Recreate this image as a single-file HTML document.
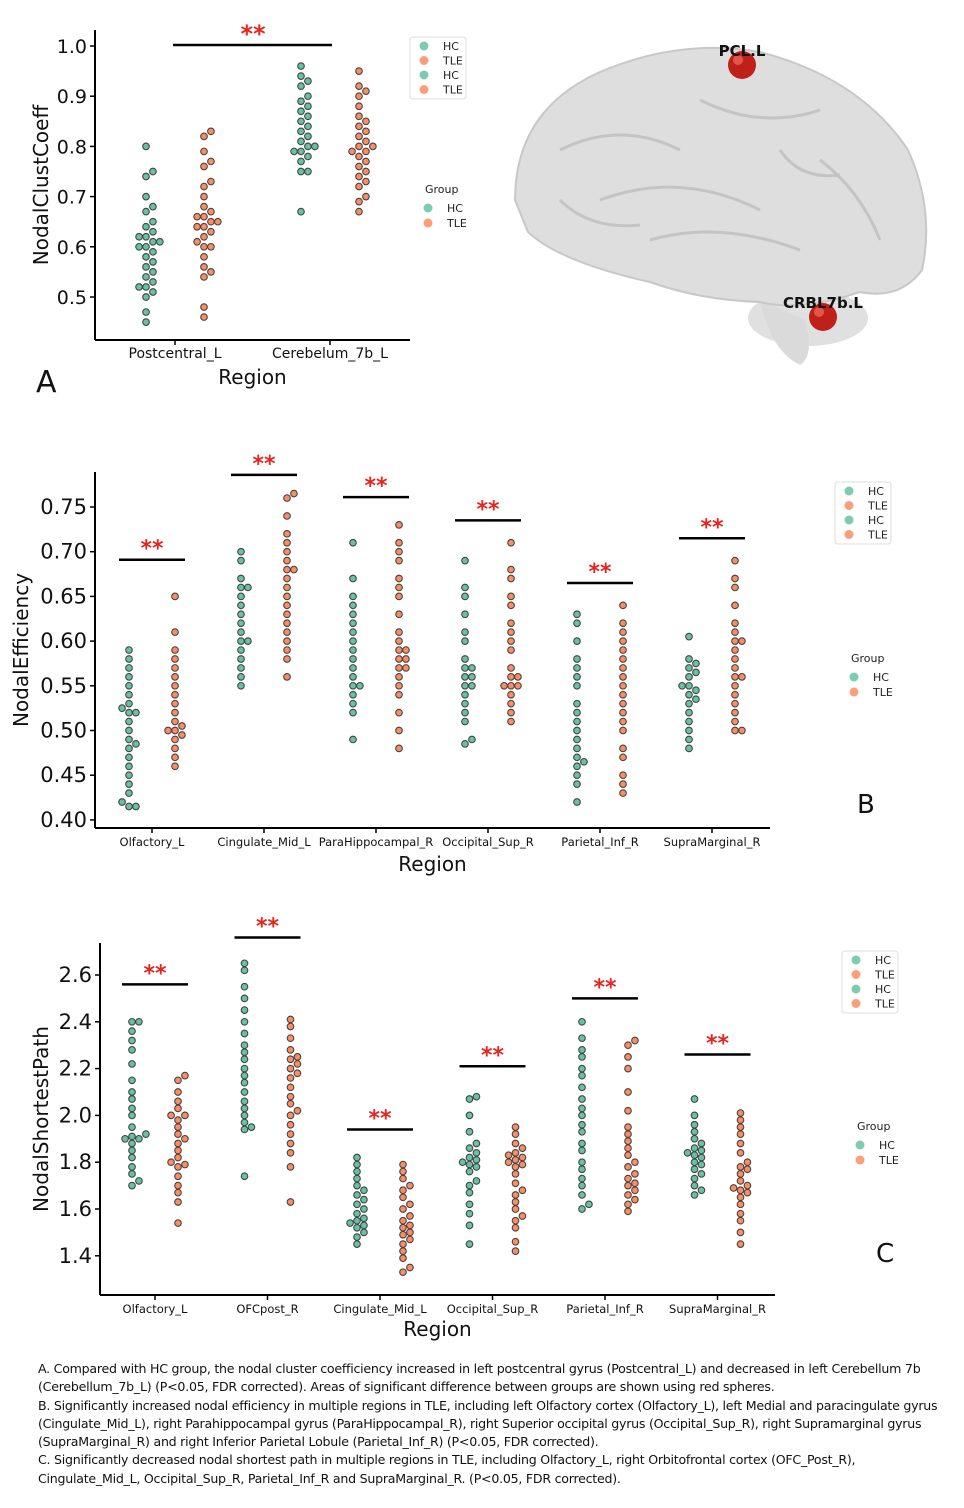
<!DOCTYPE html>
<html><head><meta charset="utf-8"><style>
body{margin:0;background:#fff;width:964px;height:1508px;overflow:hidden;position:relative;font-family:"DejaVu Sans","Liberation Sans",sans-serif}
#cap{position:absolute;left:38px;top:1360px;width:915px;font-family:"DejaVu Sans","Liberation Sans",sans-serif;font-size:12.6px;line-height:18.3px;color:#111;letter-spacing:-0.25px}
#cap p{margin:0}
</style></head><body>
<svg id="fig" width="964" height="1508" style="position:absolute;left:0;top:0"></svg>
<div id="cap">
<p>A. Compared with HC group, the nodal cluster coefficiency increased in left postcentral gyrus (Postcentral_L) and decreased in left Cerebellum 7b (Cerebellum_7b_L) (P&lt;0.05, FDR corrected). Areas of significant difference between groups are shown using red spheres.</p>
<p>B. Significantly increased nodal efficiency in multiple regions in TLE, including left Olfactory cortex (Olfactory_L), left Medial and paracingulate gyrus (Cingulate_Mid_L), right Parahippocampal gyrus (ParaHippocampal_R), right Superior occipital gyrus (Occipital_Sup_R), right Supramarginal gyrus (SupraMarginal_R) and right Inferior Parietal Lobule (Parietal_Inf_R) (P&lt;0.05, FDR corrected).</p>
<p>C. Significantly decreased nodal shortest path in multiple regions in TLE, including Olfactory_L, right Orbitofrontal cortex (OFC_Post_R), Cingulate_Mid_L, Occipital_Sup_R, Parietal_Inf_R and SupraMarginal_R. (P&lt;0.05, FDR corrected).</p>
</div>
<script>
// Panel A data
const catsA=["Postcentral_L","Cerebelum_7b_L"];
const aHC0=[0.80,0.75,0.74,0.70,0.68,0.67,0.65,0.64,0.63,0.62,0.62,0.61,0.61,0.60,0.60,0.59,0.58,0.57,0.56,0.55,0.54,0.53,0.52,0.52,0.51,0.50,0.47,0.45];
const aTLE0=[0.83,0.82,0.79,0.77,0.76,0.73,0.72,0.70,0.68,0.67,0.66,0.66,0.65,0.65,0.64,0.64,0.63,0.62,0.61,0.60,0.60,0.58,0.56,0.55,0.54,0.48,0.46];
const aHC1=[0.96,0.94,0.93,0.92,0.90,0.89,0.88,0.87,0.86,0.85,0.84,0.83,0.82,0.81,0.80,0.80,0.79,0.79,0.78,0.77,0.75,0.75,0.67];
const aTLE1=[0.95,0.92,0.91,0.90,0.88,0.86,0.85,0.84,0.83,0.82,0.81,0.80,0.80,0.79,0.79,0.78,0.77,0.76,0.75,0.74,0.73,0.72,0.70,0.69,0.67];
const ticksA=[0.5,0.6,0.7,0.8,0.9,1.0];
// Panel B data
const catsB=["Olfactory_L","Cingulate_Mid_L","ParaHippocampal_R","Occipital_Sup_R","Parietal_Inf_R","SupraMarginal_R"];
const bHC0=[0.59,0.58,0.57,0.56,0.55,0.54,0.53,0.525,0.52,0.52,0.51,0.50,0.49,0.485,0.48,0.47,0.46,0.45,0.44,0.43,0.42,0.415,0.415];
const bTLE0=[0.65,0.61,0.59,0.58,0.57,0.56,0.55,0.54,0.53,0.52,0.51,0.505,0.50,0.50,0.495,0.49,0.48,0.47,0.46];
const bHC1=[0.70,0.69,0.67,0.66,0.66,0.65,0.64,0.63,0.62,0.61,0.60,0.60,0.59,0.58,0.57,0.56,0.55];
const bTLE1=[0.765,0.76,0.74,0.72,0.71,0.70,0.69,0.68,0.68,0.67,0.66,0.65,0.64,0.63,0.62,0.61,0.60,0.59,0.58,0.56];
const bHC2=[0.71,0.67,0.65,0.64,0.63,0.62,0.61,0.60,0.59,0.58,0.57,0.56,0.55,0.55,0.54,0.53,0.52,0.49];
const bTLE2=[0.73,0.71,0.70,0.69,0.67,0.66,0.65,0.63,0.61,0.60,0.59,0.59,0.58,0.58,0.57,0.57,0.56,0.55,0.54,0.52,0.50,0.48];
const bHC3=[0.69,0.66,0.65,0.63,0.61,0.60,0.58,0.57,0.57,0.56,0.56,0.55,0.55,0.54,0.53,0.52,0.51,0.49,0.485];
const bTLE3=[0.71,0.68,0.67,0.65,0.64,0.62,0.61,0.60,0.59,0.57,0.56,0.56,0.55,0.55,0.55,0.54,0.53,0.52,0.51];
const bHC4=[0.63,0.62,0.60,0.58,0.57,0.56,0.55,0.53,0.52,0.51,0.50,0.49,0.48,0.47,0.465,0.46,0.45,0.44,0.42];
const bTLE4=[0.64,0.62,0.61,0.60,0.59,0.58,0.57,0.56,0.55,0.54,0.53,0.52,0.51,0.50,0.48,0.47,0.45,0.44,0.43];
const bHC5=[0.605,0.58,0.575,0.57,0.565,0.56,0.55,0.55,0.545,0.54,0.535,0.53,0.52,0.51,0.50,0.49,0.48];
const bTLE5=[0.69,0.67,0.66,0.64,0.62,0.61,0.60,0.60,0.59,0.58,0.57,0.56,0.56,0.55,0.54,0.53,0.52,0.51,0.50,0.50];
const ticksB=[0.40,0.45,0.50,0.55,0.60,0.65,0.70,0.75];
const sigB=[0.691,0.786,0.761,0.735,0.665,0.715];
// Panel C data
const catsC=["Olfactory_L","OFCpost_R","Cingulate_Mid_L","Occipital_Sup_R","Parietal_Inf_R","SupraMarginal_R"];
const cHC0=[2.40,2.40,2.36,2.32,2.28,2.22,2.15,2.10,2.07,2.03,2.00,1.95,1.92,1.91,1.90,1.90,1.88,1.85,1.82,1.78,1.75,1.72,1.70];
const cTLE0=[2.17,2.15,2.10,2.06,2.03,2.00,2.00,1.98,1.95,1.92,1.90,1.88,1.85,1.82,1.80,1.79,1.78,1.74,1.70,1.67,1.63,1.54];
const cHC1=[2.65,2.62,2.55,2.50,2.45,2.40,2.35,2.30,2.27,2.24,2.20,2.17,2.14,2.10,2.06,2.03,2.00,1.97,1.95,1.94,1.74];
const cTLE1=[2.41,2.38,2.33,2.28,2.25,2.24,2.22,2.20,2.18,2.16,2.12,2.08,2.05,2.02,2.00,1.96,1.92,1.88,1.84,1.78,1.63];
const cHC2=[1.82,1.79,1.76,1.73,1.70,1.68,1.66,1.64,1.62,1.60,1.58,1.56,1.55,1.54,1.53,1.52,1.50,1.48,1.45];
const cTLE2=[1.79,1.76,1.73,1.70,1.68,1.65,1.62,1.60,1.57,1.55,1.53,1.52,1.50,1.49,1.47,1.45,1.42,1.39,1.35,1.33];
const cHC3=[2.08,2.07,2.00,1.93,1.88,1.86,1.84,1.82,1.81,1.80,1.79,1.78,1.76,1.72,1.70,1.67,1.62,1.58,1.53,1.45];
const cTLE3=[1.95,1.92,1.88,1.86,1.84,1.83,1.82,1.81,1.80,1.79,1.78,1.75,1.71,1.68,1.66,1.63,1.60,1.57,1.55,1.52,1.46,1.42];
const cHC4=[2.40,2.33,2.28,2.25,2.20,2.17,2.12,2.07,2.03,2.00,1.96,1.93,1.88,1.85,1.80,1.77,1.73,1.70,1.66,1.62,1.60];
const cTLE4=[2.32,2.30,2.25,2.20,2.10,2.02,1.95,1.92,1.89,1.86,1.83,1.80,1.78,1.75,1.73,1.71,1.70,1.68,1.66,1.64,1.62,1.59];
const cHC5=[2.07,2.00,1.96,1.93,1.90,1.88,1.86,1.85,1.84,1.83,1.82,1.80,1.79,1.77,1.75,1.73,1.70,1.68,1.66];
const cTLE5=[2.01,1.98,1.95,1.92,1.88,1.84,1.80,1.78,1.77,1.75,1.72,1.70,1.69,1.68,1.67,1.65,1.62,1.58,1.55,1.50,1.45];
const ticksC=[1.4,1.6,1.8,2.0,2.2,2.4,2.6];
const sigC=[2.56,2.76,1.94,2.21,2.50,2.26];

const NS="http://www.w3.org/2000/svg";
const svg=document.getElementById('fig');
function mk(tag,attrs,parent,text){const e=document.createElementNS(NS,tag);for(const k in attrs)e.setAttribute(k,attrs[k]);if(text!==undefined)e.textContent=text;(parent||svg).appendChild(e);return e;}
const GREEN="#66c2a5",ORANGE="#fc8d62";

function swarm(vals,cx,ys,color,g,r){
  const placed=[];const d=2*r+0.3;
  const sorted=vals.slice().sort((a,b)=>a-b);
  sorted.forEach(v=>{
    const y=ys(v);let x=cx;
    for(let k=0;k<40;k++){
      const off=(k%2?1:-1)*Math.ceil(k/2)*r*1.05;
      const tx=cx+off;
      if(placed.every(p=>(p[0]-tx)**2+(p[1]-y)**2>=d*d)){x=tx;break;}
    }
    placed.push([x,y]);
    const c=mk('circle',{cx:x,cy:y,r:r,fill:color,stroke:"#444",'stroke-width':1.1},g);
    
    
  });
}
function legend(x,y,g){
  mk('rect',{x:x,y:y,width:56,height:62,rx:3,fill:"#fff",stroke:"#ddd"},g);
  ["HC","TLE","HC","TLE"].forEach((t,i)=>{
    mk('circle',{cx:x+14,cy:y+9+i*14.5,r:4.5,fill:i%2?ORANGE:GREEN,opacity:0.85},g);
    mk('text',{x:x+33,y:y+13+i*14.5,'font-size':11,fill:"#222"},g,t);
  });
}
function groupLegend(x,y,g){
  mk('text',{x:x,y:y,'font-size':11,fill:"#222"},g,"Group");
  mk('circle',{cx:x+3,cy:y+15,r:4.5,fill:GREEN,opacity:0.85},g);
  mk('text',{x:x+22,y:y+19,'font-size':11,fill:"#222"},g,"HC");
  mk('circle',{cx:x+3,cy:y+30,r:4.5,fill:ORANGE,opacity:0.85},g);
  mk('text',{x:x+22,y:y+34,'font-size':11,fill:"#222"},g,"TLE");
}
function panel(o){
  const g=mk('g',{});
  const ys=v=>o.y0+(o.t0-v)*o.ppu;
  mk('line',{x1:o.left,y1:o.top,x2:o.left,y2:o.bottom,stroke:"#000",'stroke-width':2},g);
  mk('line',{x1:o.left,y1:o.bottom,x2:o.right,y2:o.bottom,stroke:"#000",'stroke-width':2},g);
  o.ticks.forEach(t=>{const y=ys(t);
    mk('line',{x1:o.left-5,y1:y,x2:o.left,y2:y,stroke:"#000",'stroke-width':1.5},g);
    mk('text',{x:o.left-8,y:y+7,'font-size':o.tfs,'text-anchor':'end',fill:"#111"},g,t.toFixed(o.dec));});
  o.cats.forEach((c,i)=>{const cx=o.c0+i*o.cstep;
    mk('line',{x1:cx,y1:o.bottom,x2:cx,y2:o.bottom+5,stroke:"#000",'stroke-width':1.5},g);
    mk('text',{x:cx,y:o.bottom+18,'font-size':o.cfs,'text-anchor':'middle',fill:"#111"},g,c);
    swarm(o.hc[i],cx-o.off,ys,GREEN,g,o.r);
    swarm(o.tle[i],cx+o.off,ys,ORANGE,g,o.r);
    if(o.sig&&o.sig[i]!==undefined){const sy=ys(o.sig[i]);
      mk('line',{x1:cx-o.sw,y1:sy,x2:cx+o.sw,y2:sy,stroke:"#000",'stroke-width':2.5},g);
      mk('text',{x:cx,y:sy-4,'font-size':o.sfs,'text-anchor':'middle',fill:"#e8231d",'font-weight':'bold'},g,"**");}
  });
  mk('text',{x:(o.left+o.right)/2,y:o.bottom+o.xlo,'font-size':20,'text-anchor':'middle',fill:"#111"},g,"Region");
  const yl=(o.top+o.bottom)/2;
  mk('text',{x:o.ylx,y:yl,'font-size':20,'text-anchor':'middle',fill:"#111",transform:`rotate(-90 ${o.ylx} ${yl})`},g,o.ylab);
  return g;
}
// Panel A
const gA=panel({name:'panel-a',left:95,right:410,top:30,bottom:340,y0:46,t0:1.0,ppu:502,ticks:ticksA,dec:1,tfs:19,
  cats:catsA,c0:175,cstep:155,off:29,r:3.3,cfs:14,hc:[aHC0,aHC1],tle:[aTLE0,aTLE1],sig:null,xlo:44,ylx:48,ylab:"NodalClustCoeff"});
mk('line',{x1:173,y1:45,x2:332,y2:45,stroke:"#000",'stroke-width':2.5},gA);
mk('text',{x:253,y:42,'font-size':24,'text-anchor':'middle',fill:"#e8231d",'font-weight':'bold'},gA,"**");
legend(410,37,gA);groupLegend(425,193,gA);
mk('text',{x:36,y:392,'font-size':30,fill:"#111"},gA,"A");
// Brain
const br=mk('g',{});
mk('ellipse',{cx:808,cy:318,rx:60,ry:28,fill:"#d8d8d8",opacity:0.8},br);
mk('path',{d:"M760,300 Q770,350 800,365 Q815,355 805,320 Z",fill:"#dadada"},br);
mk('path',{d:"M515,200 Q515,110 600,72 Q680,38 760,52 Q860,78 908,150 Q935,210 922,270 Q900,300 860,292 Q800,312 760,302 Q700,300 650,282 Q560,262 528,232 Z",fill:"#dedede",stroke:"#c8c8c8",'stroke-width':2},br);
mk('path',{d:"M560,150 Q620,120 680,150 M600,200 Q680,170 760,210 M700,100 Q760,130 820,110 M650,240 Q720,220 800,250 M820,160 Q860,190 880,240 M560,200 Q590,230 640,225 M780,150 Q800,180 840,175",fill:"none",stroke:"#c4c4c4",'stroke-width':3},br);
mk('circle',{cx:742,cy:65,r:14,fill:"#c0201a"},br);mk('circle',{cx:738,cy:60,r:5,fill:"#f07060",opacity:0.7},br);
mk('circle',{cx:823,cy:317,r:14,fill:"#c0201a"},br);mk('circle',{cx:819,cy:312,r:5,fill:"#f07060",opacity:0.7},br);
mk('text',{x:742,y:56,'font-size':15,'font-weight':'bold','text-anchor':'middle',fill:"#111"},br,"PCL.L");
mk('text',{x:823,y:308,'font-size':15,'font-weight':'bold','text-anchor':'middle',fill:"#111"},br,"CRBL7b.L");
// Panel B
const gB=panel({name:'panel-b',left:95,right:770,top:472,bottom:828,y0:507,t0:0.75,ppu:894,ticks:ticksB,dec:2,tfs:21,
  cats:catsB,c0:152,cstep:112,off:23,r:3.3,cfs:11.5,hc:[bHC0,bHC1,bHC2,bHC3,bHC4,bHC5],tle:[bTLE0,bTLE1,bTLE2,bTLE3,bTLE4,bTLE5],sig:sigB,sw:33,sfs:22,xlo:43,ylx:28,ylab:"NodalEfficiency"});
legend(835,482,gB);groupLegend(851,662,gB);
mk('text',{x:857,y:813,'font-size':26,fill:"#111"},gB,"B");
// Panel C
const gC=panel({name:'panel-c',left:100,right:775,top:943,bottom:1295,y0:975,t0:2.6,ppu:234,ticks:ticksC,dec:1,tfs:21,
  cats:catsC,c0:155,cstep:112.5,off:23,r:3.3,cfs:11.5,hc:[cHC0,cHC1,cHC2,cHC3,cHC4,cHC5],tle:[cTLE0,cTLE1,cTLE2,cTLE3,cTLE4,cTLE5],sig:sigC,sw:33,sfs:22,xlo:41,ylx:48,ylab:"NodalShortestPath"});
legend(842,951,gC);groupLegend(857,1130,gC);
mk('text',{x:876,y:1262,'font-size':26,fill:"#111"},gC,"C");
</script>
</body></html>
